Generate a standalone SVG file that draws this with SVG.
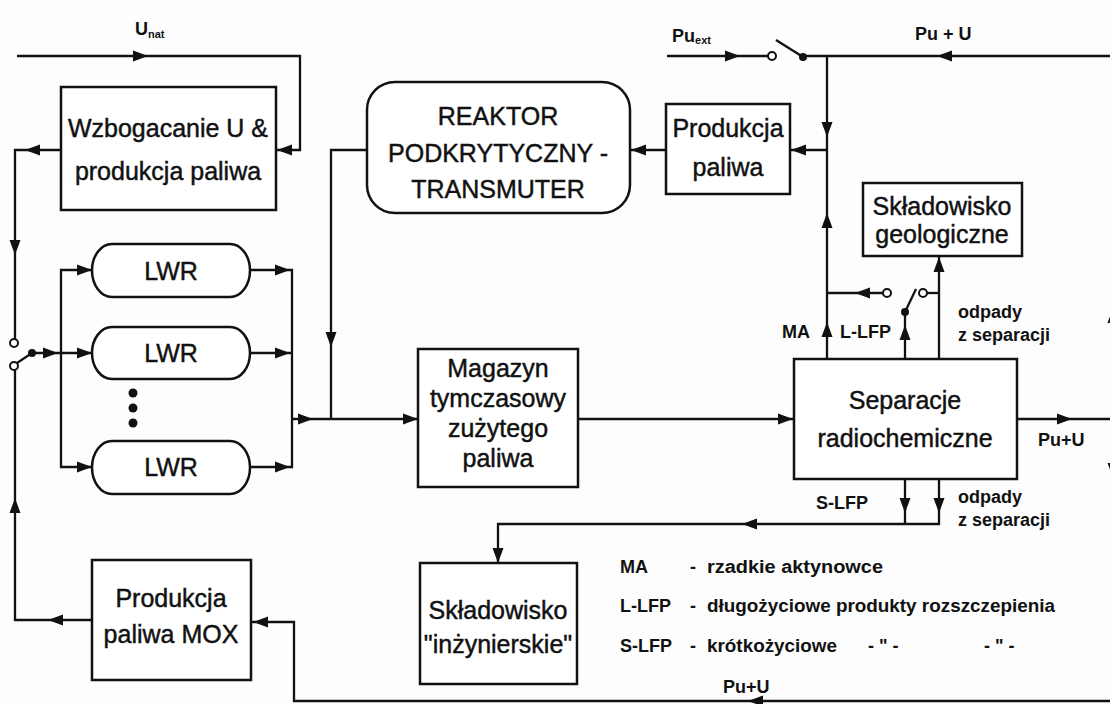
<svg xmlns="http://www.w3.org/2000/svg" xmlns:xlink="http://www.w3.org/1999/xlink" width="1110" height="704" viewBox="0 0 1110 704">
<style>
.box{fill:#fff;stroke:#111;stroke-width:2.5}
.t{font-family:"Liberation Sans",Arial,sans-serif;font-size:25px;fill:#111;stroke:#111;stroke-width:0.45;text-anchor:middle}
.l{font-family:"Liberation Sans",Arial,sans-serif;font-size:18px;font-weight:bold;fill:#111}
.c{fill:none;stroke:#111;stroke-width:2.3}
.ah{fill:#111}
.oc{fill:#fff;stroke:#111;stroke-width:2}
.dot{fill:#111}
</style>
<defs>
<path id="ah" d="M0,0 L-15,-5.5 L-15,5.5 Z"/>
</defs>
<rect width="1110" height="704" fill="#fdfdfd"/>

<g id="connectors">
<g class="c">
<polyline points="17,56 300,56 300,150 276,150"/>
<polyline points="61,150 15,150 15,339"/>
<line x1="17" y1="363" x2="32" y2="353"/>
<line x1="32" y1="353" x2="92" y2="353"/>
<polyline points="92,620 15,620 15,370"/>
<polyline points="92,270 61,270 61,467 92,467"/>
<polyline points="250,270 292,270 292,467 250,467"/>
<line x1="250" y1="353" x2="292" y2="353"/>
<line x1="292" y1="419" x2="418" y2="419"/>
<polyline points="367,150 331,150 331,419"/>
<line x1="666" y1="150" x2="630" y2="150"/>
<line x1="667" y1="56" x2="768" y2="56"/>
<line x1="803" y1="57" x2="776" y2="40"/>
<line x1="803" y1="56" x2="1113" y2="56"/>
<line x1="1113" y1="56" x2="1113" y2="701"/>
<line x1="827" y1="56" x2="827" y2="358"/>
<line x1="827" y1="150" x2="790" y2="150"/>
<line x1="827" y1="293" x2="883" y2="293"/>
<line x1="927" y1="293" x2="939" y2="293"/>
<line x1="939" y1="358" x2="939" y2="256"/>
<line x1="905" y1="358" x2="905" y2="312"/>
<line x1="905" y1="312" x2="916" y2="289"/>
<line x1="578" y1="419" x2="794" y2="419"/>
<line x1="1017" y1="419" x2="1113" y2="419"/>
<line x1="905" y1="479" x2="905" y2="524"/>
<polyline points="939,479 939,524 498,524 498,563"/>
<polyline points="1113,701 294,701 294,622 252,622"/>
</g>
<circle class="oc" cx="14" cy="343" r="4"/>
<circle class="oc" cx="14" cy="366" r="4"/>
<circle class="dot" cx="32" cy="353" r="4"/>
<circle class="oc" cx="772" cy="56" r="4"/>
<circle class="dot" cx="803" cy="57" r="4"/>
<circle class="oc" cx="887" cy="293" r="4"/>
<circle class="oc" cx="923" cy="293" r="4"/>
<circle class="dot" cx="905" cy="312" r="4"/>
<g class="ah">
<use xlink:href="#ah" transform="translate(148,56)"/>
<use xlink:href="#ah" transform="translate(277,150) rotate(180)"/>
<use xlink:href="#ah" transform="translate(25,150) rotate(180)"/>
<use xlink:href="#ah" transform="translate(15,255) rotate(90)"/>
<use xlink:href="#ah" transform="translate(15,498) rotate(-90)"/>
<use xlink:href="#ah" transform="translate(58,353)"/>
<use xlink:href="#ah" transform="translate(92,353)"/>
<use xlink:href="#ah" transform="translate(92,270)"/>
<use xlink:href="#ah" transform="translate(92,467)"/>
<use xlink:href="#ah" transform="translate(290,270)"/>
<use xlink:href="#ah" transform="translate(290,353)"/>
<use xlink:href="#ah" transform="translate(290,467)"/>
<use xlink:href="#ah" transform="translate(313,419)"/>
<use xlink:href="#ah" transform="translate(331,347) rotate(90)"/>
<use xlink:href="#ah" transform="translate(418,419)"/>
<use xlink:href="#ah" transform="translate(631,150) rotate(180)"/>
<use xlink:href="#ah" transform="translate(740,56)"/>
<use xlink:href="#ah" transform="translate(937,56) rotate(180)"/>
<use xlink:href="#ah" transform="translate(827,137) rotate(90)"/>
<use xlink:href="#ah" transform="translate(791,150) rotate(180)"/>
<use xlink:href="#ah" transform="translate(827,213) rotate(-90)"/>
<use xlink:href="#ah" transform="translate(855,293) rotate(180)"/>
<use xlink:href="#ah" transform="translate(827,322) rotate(-90)"/>
<use xlink:href="#ah" transform="translate(905,325) rotate(-90)"/>
<use xlink:href="#ah" transform="translate(939,257) rotate(-90)"/>
<use xlink:href="#ah" transform="translate(793,419)"/>
<use xlink:href="#ah" transform="translate(1072,419)"/>
<use xlink:href="#ah" transform="translate(905,513) rotate(90)"/>
<use xlink:href="#ah" transform="translate(939,513) rotate(90)"/>
<use xlink:href="#ah" transform="translate(742,524) rotate(180)"/>
<use xlink:href="#ah" transform="translate(498,563) rotate(90)"/>
<use xlink:href="#ah" transform="translate(48,620) rotate(180)"/>
<use xlink:href="#ah" transform="translate(253,622) rotate(180)"/>
<use xlink:href="#ah" transform="translate(748,701) rotate(180)"/>
<use xlink:href="#ah" transform="translate(1113,308) rotate(-90)"/>
<use xlink:href="#ah" transform="translate(1113,478) rotate(90)"/>
</g>
<circle class="dot" cx="133" cy="393" r="4.5"/>
<circle class="dot" cx="133" cy="408" r="4.5"/>
<circle class="dot" cx="133" cy="423" r="4.5"/>
</g>

<g id="labels">
<text class="l" x="135" y="35">U<tspan font-size="11" dy="3">nat</tspan></text>
<text class="l" x="672" y="42">Pu<tspan font-size="11" dy="2">ext</tspan></text>
<text class="l" x="915" y="40">Pu + U</text>
<text class="l" x="782" y="338">MA</text>
<text class="l" x="840" y="338">L-LFP</text>
<text class="l" x="958" y="318">odpady</text>
<text class="l" x="958" y="341">z separacji</text>
<text class="l" x="1038" y="446">Pu+U</text>
<text class="l" x="816" y="509">S-LFP</text>
<text class="l" x="958" y="503">odpady</text>
<text class="l" x="958" y="526">z separacji</text>
<text class="l" x="723" y="693">Pu+U</text>
</g>

<g id="legend">
<text class="l" x="620" y="573">MA</text>
<text class="l" x="690" y="573">-</text>
<text class="l" x="707" y="573" textLength="176" lengthAdjust="spacingAndGlyphs">rzadkie aktynowce</text>
<text class="l" x="620" y="612">L-LFP</text>
<text class="l" x="690" y="612">-</text>
<text class="l" x="707" y="612" textLength="348" lengthAdjust="spacingAndGlyphs">długożyciowe produkty rozszczepienia</text>
<text class="l" x="620" y="652">S-LFP</text>
<text class="l" x="690" y="652">-</text>
<text class="l" x="707" y="652" textLength="130" lengthAdjust="spacingAndGlyphs">krótkożyciowe</text>
<text class="l" x="868" y="652">- " -</text>
<text class="l" x="984" y="652">- " -</text>
</g>

<g id="wzbogacanie">
<rect class="box" x="61" y="87" width="215" height="123"/>
<text class="t" x="168" y="137" font-size="26">Wzbogacanie U &amp;</text>
<text class="t" x="168" y="180" font-size="26">produkcja paliwa</text>
</g>
<g id="reaktor">
<rect class="box" x="367" y="82" width="263" height="131" rx="28"/>
<text class="t" x="498" y="125">REAKTOR</text>
<text class="t" x="498" y="162">PODKRYTYCZNY -</text>
<text class="t" x="498" y="198">TRANSMUTER</text>
</g>
<g id="produkcja">
<rect class="box" x="666" y="104" width="124" height="90"/>
<text class="t" x="728" y="137">Produkcja</text>
<text class="t" x="728" y="176">paliwa</text>
</g>
<g id="lwr1">
<rect class="box" x="92" y="244" width="158" height="53" rx="20" ry="26.5"/>
<text class="t" x="171" y="280" font-size="24">LWR</text>
</g>
<g id="lwr2">
<rect class="box" x="92" y="327" width="158" height="52" rx="20" ry="26"/>
<text class="t" x="171" y="362" font-size="24">LWR</text>
</g>
<g id="lwr3">
<rect class="box" x="92" y="441" width="158" height="53" rx="20" ry="26.5"/>
<text class="t" x="171" y="476" font-size="24">LWR</text>
</g>
<g id="magazyn">
<rect class="box" x="418" y="349" width="160" height="138"/>
<text class="t" x="498" y="377">Magazyn</text>
<text class="t" x="498" y="407">tymczasowy</text>
<text class="t" x="498" y="437">zużytego</text>
<text class="t" x="498" y="467">paliwa</text>
</g>
<g id="separacje">
<rect class="box" x="794" y="359" width="223" height="120"/>
<text class="t" x="905" y="409">Separacje</text>
<text class="t" x="905" y="447">radiochemiczne</text>
</g>
<g id="geologiczne">
<rect class="box" x="863" y="183" width="159" height="73"/>
<text class="t" x="942" y="215">Składowisko</text>
<text class="t" x="942" y="243">geologiczne</text>
</g>
<g id="mox">
<rect class="box" x="92" y="560" width="159" height="120"/>
<text class="t" x="171" y="607">Produkcja</text>
<text class="t" x="171" y="643">paliwa MOX</text>
</g>
<g id="inzynierskie">
<rect class="box" x="420" y="563" width="157" height="121"/>
<text class="t" x="498" y="619">Składowisko</text>
<text class="t" x="498" y="653">"inżynierskie"</text>
</g>
</svg>
